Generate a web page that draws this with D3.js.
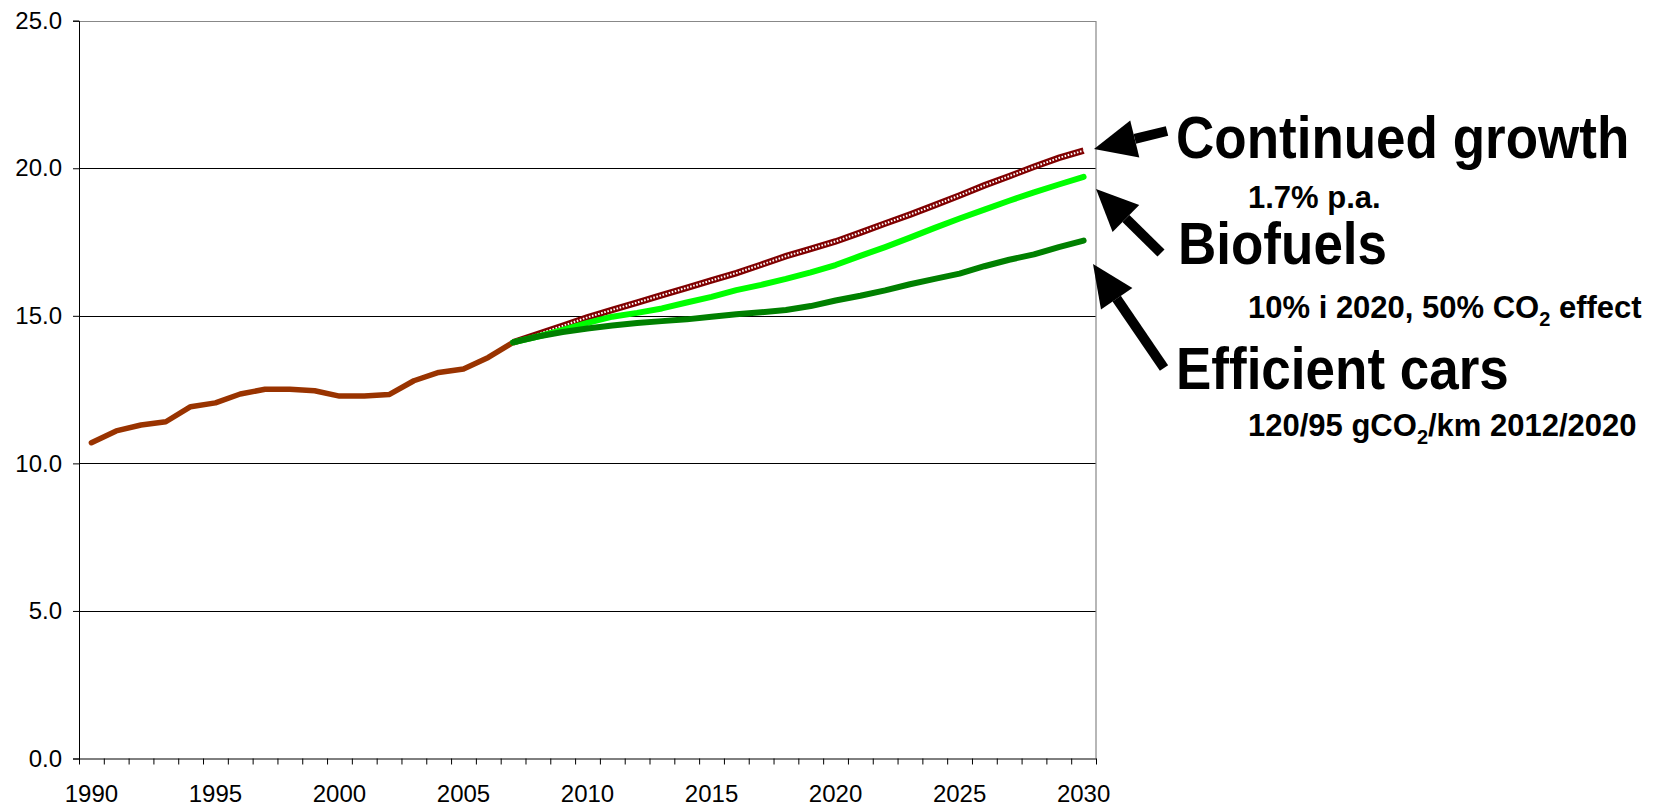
<!DOCTYPE html>
<html>
<head>
<meta charset="utf-8">
<script src="https://cdn.jsdelivr.net/npm/d3@7"></script>
<style>
  body { margin: 0; background: #fff; }
  svg { display: block; font-family: "Liberation Sans", Arial, sans-serif; }
</style>
</head>
<body>
<svg width="1669" height="806"></svg>
<script>
// years on the category axis
const years = d3.range(1990, 2031);
const tickYears = [1990, 1995, 2000, 2005, 2010, 2015, 2020, 2025, 2030];
const yTicks = [0, 5, 10, 15, 20, 25];

// history 1990-2007
const histYears = d3.range(1990, 2008);
const histValues = [10.7, 11.1, 11.3, 11.41, 11.92, 12.05, 12.35, 12.51, 12.51, 12.46,
  12.28, 12.28, 12.33, 12.8, 13.08, 13.2, 13.59, 14.1];

// scenarios 2007-2030
const projYears = d3.range(2007, 2031);
const growthValues = [14.1, 14.38, 14.66, 14.95, 15.2, 15.45, 15.7, 15.95, 16.2, 16.45,
  16.73, 17.02, 17.27, 17.52, 17.82, 18.13, 18.43, 18.75, 19.08, 19.42, 19.73, 20.05, 20.35, 20.6];
const biofuelValues = [14.1, 14.3, 14.52, 14.76, 14.97, 15.1, 15.25, 15.45, 15.64, 15.87,
  16.05, 16.25, 16.47, 16.72, 17.03, 17.33, 17.65, 17.98, 18.3, 18.6, 18.9, 19.18, 19.45, 19.71];
const carValues = [14.1, 14.3, 14.45, 14.57, 14.67, 14.76, 14.82, 14.88, 14.97, 15.05,
  15.12, 15.2, 15.33, 15.52, 15.68, 15.86, 16.07, 16.25, 16.43, 16.68, 16.9, 17.08, 17.33, 17.55];

const svg = d3.select("svg");

// plot box
const plotL = 79, plotR = 1096, plotT = 20.7, plotB = 758.5;

// band scale for the year categories
const x = d3.scaleBand().domain(years).range([plotL, plotR]);
const xEdge = d3.scaleLinear().domain([1990, 2031]).range([plotL, plotR]);
const y = d3.scaleLinear().domain([0, 25]).range([plotB, plotT]);

// gridlines
svg.append("g")
  .selectAll("line")
  .data(yTicks.filter(d => d > 0 && d < 25))
  .enter()
  .append("line")
  .attr("x1", plotL).attr("x2", plotR)
  .attr("y1", d => Math.round(y(d)) + 0.5).attr("y2", d => Math.round(y(d)) + 0.5)
  .attr("stroke", "#000").attr("stroke-width", 1);

// gray border top and right
svg.append("path")
  .attr("d", `M${plotL},${Math.round(plotT) + 0.5}H${plotR}V${plotB}`)
  .attr("fill", "none").attr("stroke", "#888").attr("stroke-width", 1.2);

// y axis
const yAxis = svg.append("g")
  .attr("transform", `translate(${plotL},0)`)
  .call(d3.axisLeft(y).tickValues(yTicks).tickFormat(d3.format(".1f")).tickSize(6).tickPadding(11));
yAxis.selectAll("text").style("font-size", "24px").attr("fill", "#000");
yAxis.selectAll("line, path").attr("stroke", "#000");

// x axis tick marks at category edges
const xTickAxis = svg.append("g")
  .attr("transform", `translate(0,${plotB})`)
  .call(d3.axisBottom(xEdge).tickValues(d3.range(1990, 2032)).tickFormat("").tickSize(6).tickSizeOuter(0));
xTickAxis.selectAll("line, path").attr("stroke", "#000");

// x labels at category centres
const xLabels = svg.append("g")
  .attr("transform", `translate(0,${plotB})`)
  .call(d3.axisBottom(x).tickValues(tickYears).tickSize(0).tickPadding(26));
xLabels.select(".domain").remove();
xLabels.selectAll("text").style("font-size", "24px").attr("fill", "#000");

// line generator
const line = d3.line()
  .x(d => x(d[0]) + x.bandwidth() / 2)
  .y(d => y(d[1]));

const hist = d3.zip(histYears, histValues);
const growth = d3.zip(projYears, growthValues);
const bio = d3.zip(projYears, biofuelValues);
const cars = d3.zip(projYears, carValues);

svg.append("path").datum(hist).attr("d", line)
  .attr("fill", "none").attr("stroke", "#993300").attr("stroke-width", 5.5)
  .attr("stroke-linejoin", "round").attr("stroke-linecap", "round");

// patterned dark red line
svg.append("path").datum(growth).attr("d", line)
  .attr("fill", "none").attr("stroke", "#800000").attr("stroke-width", 6.5);
svg.append("path").datum(growth).attr("d", line)
  .attr("fill", "none").attr("stroke", "#fff").attr("stroke-width", 2)
  .attr("stroke-dasharray", "1.6,1.6");

svg.append("path").datum(bio).attr("d", line)
  .attr("fill", "none").attr("stroke", "#00ff00").attr("stroke-width", 6)
  .attr("stroke-linejoin", "round").attr("stroke-linecap", "round");

svg.append("path").datum(cars).attr("d", line)
  .attr("fill", "none").attr("stroke", "#008000").attr("stroke-width", 6)
  .attr("stroke-linejoin", "round").attr("stroke-linecap", "round");

// arrows
function arrow(x1, y1, x2, y2) {
  const ang = Math.atan2(y2 - y1, x2 - x1);
  const headLen = 42, headHalf = 19, shaft = 5;
  const bx = x2 - headLen * Math.cos(ang), by = y2 - headLen * Math.sin(ang);
  const px = -Math.sin(ang), py = Math.cos(ang);
  svg.append("line")
    .attr("x1", x1).attr("y1", y1).attr("x2", bx).attr("y2", by)
    .attr("stroke", "#000").attr("stroke-width", shaft * 2);
  svg.append("path")
    .attr("d", `M${x2},${y2}L${bx + px * headHalf},${by + py * headHalf}L${bx - px * headHalf},${by - py * headHalf}Z`)
    .attr("fill", "#000");
}
arrow(1167, 131, 1094, 149);
arrow(1161, 253, 1096, 189);
arrow(1164, 368, 1093, 264);

// labels (tall bold type, stretched a bit vertically)
const big = [
  { text: "Continued growth", x: 1176, y: 158 },
  { text: "Biofuels", x: 1178, y: 264 },
  { text: "Efficient cars", x: 1176, y: 389 }
];
svg.selectAll("text.big").data(big).enter().append("text")
  .attr("class", "big")
  .attr("transform", d => `translate(${d.x},${d.y}) scale(1,1.11)`)
  .style("font-size", "53px").style("font-weight", "bold").text(d => d.text);

svg.append("text").attr("x", 1248).attr("y", 208)
  .style("font-size", "31px").style("font-weight", "bold").text("1.7% p.a.");

const t2 = svg.append("text").attr("x", 1248).attr("y", 318)
  .style("font-size", "31px").style("font-weight", "bold");
t2.append("tspan").text("10% i 2020, 50% CO");
t2.append("tspan").attr("dy", 8).style("font-size", "20px").text("2");
t2.append("tspan").attr("dy", -8).text(" effect");

const t3 = svg.append("text").attr("x", 1248).attr("y", 436)
  .style("font-size", "31px").style("font-weight", "bold");
t3.append("tspan").text("120/95 gCO");
t3.append("tspan").attr("dy", 8).style("font-size", "20px").text("2");
t3.append("tspan").attr("dy", -8).text("/km 2012/2020");
</script>
</body>
</html>
